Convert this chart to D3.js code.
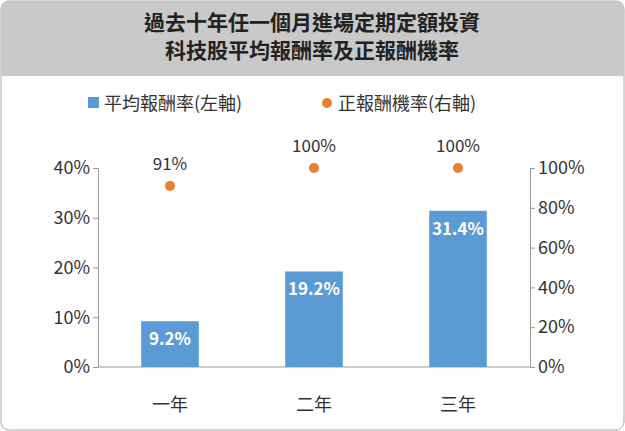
<!DOCTYPE html><html><head><meta charset="utf-8">
<script src="https://cdn.jsdelivr.net/npm/d3@7/dist/d3.min.js"></script>
<style>body{margin:0;background:#fff}svg{font-family:"Noto Sans CJK TC","Noto Sans",sans-serif}</style></head><body>
<svg id="c" width="625" height="431"></svg>
<script>
const categories=["一年","二年","三年"];
const avgReturn=[9.2,19.2,31.4];
const posProb=[91,100,100];
const leftTicks=[0,10,20,30,40];
const rightTicks=[0,20,40,60,80,100];
const titleLines=["過去十年任一個月進場定期定額投資","科技股平均報酬率及正報酬機率"];
const svg=d3.select("#c");
svg.append("rect").attr("x",1).attr("y",1).attr("width",623).attr("height",429).attr("rx",8).attr("fill","#fff").attr("stroke","#aaa");
svg.append("path").attr("d","M1,76 V9 Q1,1 9,1 H616 Q624,1 624,9 V76 Z").attr("fill","#c9c9c9");
titleLines.forEach((t,i)=>svg.append("text").attr("x",312).attr("y",30+i*28).attr("text-anchor","middle").attr("font-size",21).attr("font-weight","bold").attr("fill","#222").text(t));
const x=d3.scaleBand().domain(categories).range([98,530]).paddingInner(0.6).paddingOuter(0.3);
const yL=d3.scaleLinear().domain([0,40]).range([367,168]);
const yR=d3.scaleLinear().domain([0,100]).range([367,168]);
const blue="#5b9bd5",orange="#ed7d31";
svg.append("g").attr("transform","translate(98,0)").call(d3.axisLeft(yL).tickValues(leftTicks).tickFormat(d=>d+"%").tickSize(5)).call(g=>{g.selectAll("text").attr("font-size",18).attr("fill","#333").attr("font-family","Noto Sans CJK TC");g.selectAll("line,path").attr("stroke","#999");});
svg.append("g").attr("transform","translate(530,0)").call(d3.axisRight(yR).tickValues(rightTicks).tickFormat(d=>d+"%").tickSize(5)).call(g=>{g.selectAll("text").attr("font-size",18).attr("fill","#333").attr("font-family","Noto Sans CJK TC");g.selectAll("line,path").attr("stroke","#999");});
svg.append("line").attr("x1",98).attr("x2",530).attr("y1",367).attr("y2",367).attr("stroke","#999");
categories.forEach(c=>svg.append("text").attr("x",x(c)+x.bandwidth()/2).attr("y",411).attr("text-anchor","middle").attr("font-size",18).attr("fill","#333").text(c));
categories.forEach((c,i)=>{
 svg.append("rect").attr("x",x(c)).attr("width",x.bandwidth()).attr("y",yL(avgReturn[i])).attr("height",367-yL(avgReturn[i])).attr("fill",blue);
 svg.append("text").attr("x",x(c)+x.bandwidth()/2).attr("y",yL(avgReturn[i])+24).attr("text-anchor","middle").attr("font-size",17).attr("font-weight","bold").attr("fill","#fff").text(avgReturn[i].toFixed(1)+"%");
 const cx=x(c)+x.bandwidth()/2;
 svg.append("circle").attr("cx",cx).attr("cy",yR(posProb[i])).attr("r",5).attr("fill",orange);
 svg.append("text").attr("x",cx).attr("y",yR(posProb[i])-16).attr("text-anchor","middle").attr("font-size",17).attr("fill","#333").text(posProb[i]+"%");
});
svg.append("rect").attr("x",88).attr("y",97).attr("width",11).attr("height",11).attr("fill",blue);
svg.append("text").attr("x",104).attr("y",110).attr("font-size",18).attr("fill","#333").text("平均報酬率(左軸)");
svg.append("circle").attr("cx",327).attr("cy",103).attr("r",5).attr("fill",orange);
svg.append("text").attr("x",338).attr("y",110).attr("font-size",18).attr("fill","#333").text("正報酬機率(右軸)");
</script></body></html>
